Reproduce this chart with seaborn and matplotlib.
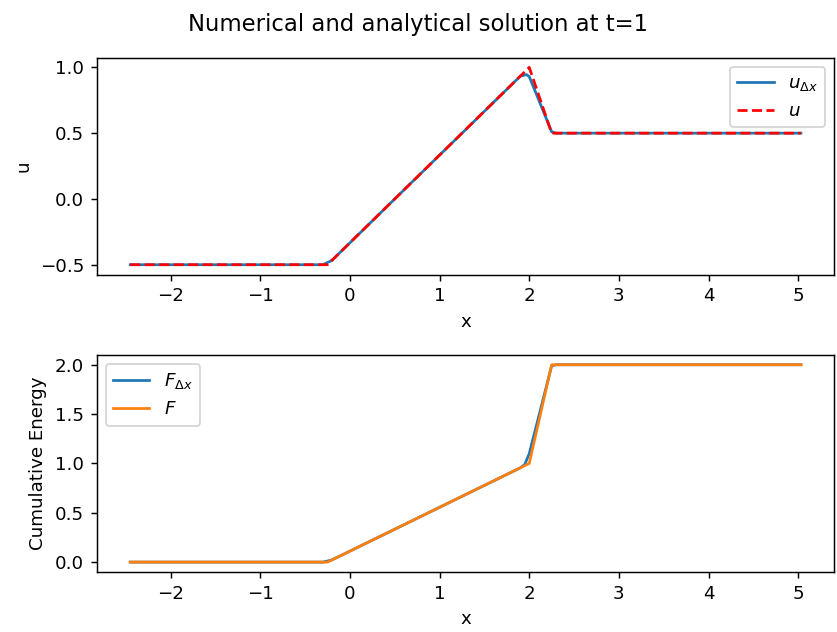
import matplotlib
matplotlib.use("Agg")
import matplotlib.pyplot as plt
import seaborn as sns
import pandas as pd

# Analytical solution breakpoints at t=1
x_exact = [-2.45, -0.25, 2.0, 2.25, 5.03]
u_exact = [-0.5, -0.5, 1.0, 0.5, 0.5]
F_exact = [0.0, 0.0, 1.0, 2.0, 2.0]

# Numerical (finite-volume) solution samples
x_num = [-2.45, -0.30, -0.20, 1.90, 1.97, 2.00, 2.25, 2.30, 5.03]
u_num = [-0.5, -0.5, -0.467, 0.933, 0.945, 0.93, 0.51, 0.50, 0.50]

x_numF = [-2.45, -0.30, -0.20, 1.90, 1.95, 2.00, 2.25, 2.30, 5.03]
F_num = [0.0, 0.0, 0.022, 0.955, 0.99, 1.10, 1.99, 2.00, 2.00]

top_num = pd.DataFrame({"x": x_num, "u": u_num})
top_ex = pd.DataFrame({"x": x_exact, "u": u_exact})
bot_num = pd.DataFrame({"x": x_numF, "F": F_num})
bot_ex = pd.DataFrame({"x": x_exact, "F": F_exact})

DPI = 131
fig, (ax1, ax2) = plt.subplots(2, 1, figsize=(837 / DPI, 632 / DPI), dpi=DPI)
fig.subplots_adjust(left=0.1155, right=0.997, top=0.909, bottom=0.095, hspace=0.37)

sns.lineplot(data=top_num, x="x", y="u", ax=ax1, color="C0", linewidth=1.5,
             label=r"$u_{\Delta x}$", estimator=None, sort=False)
sns.lineplot(data=top_ex, x="x", y="u", ax=ax1, color="red", linewidth=1.5,
             linestyle="--", label=r"$u$", estimator=None, sort=False)
ax1.set_xlabel("x")
ax1.set_ylabel("u")
ax1.legend(loc="upper right")

sns.lineplot(data=bot_num, x="x", y="F", ax=ax2, color="C0", linewidth=1.5,
             label=r"$F_{\Delta x}$", estimator=None, sort=False)
sns.lineplot(data=bot_ex, x="x", y="F", ax=ax2, color="C1", linewidth=1.5,
             label=r"$F$", estimator=None, sort=False)
ax2.set_xlabel("x")
ax2.set_ylabel("Cumulative Energy")
ax2.legend(loc="upper left")

fig.suptitle("Numerical and analytical solution at t=1", fontsize=12.5)
fig.savefig("out.png", dpi=DPI)
